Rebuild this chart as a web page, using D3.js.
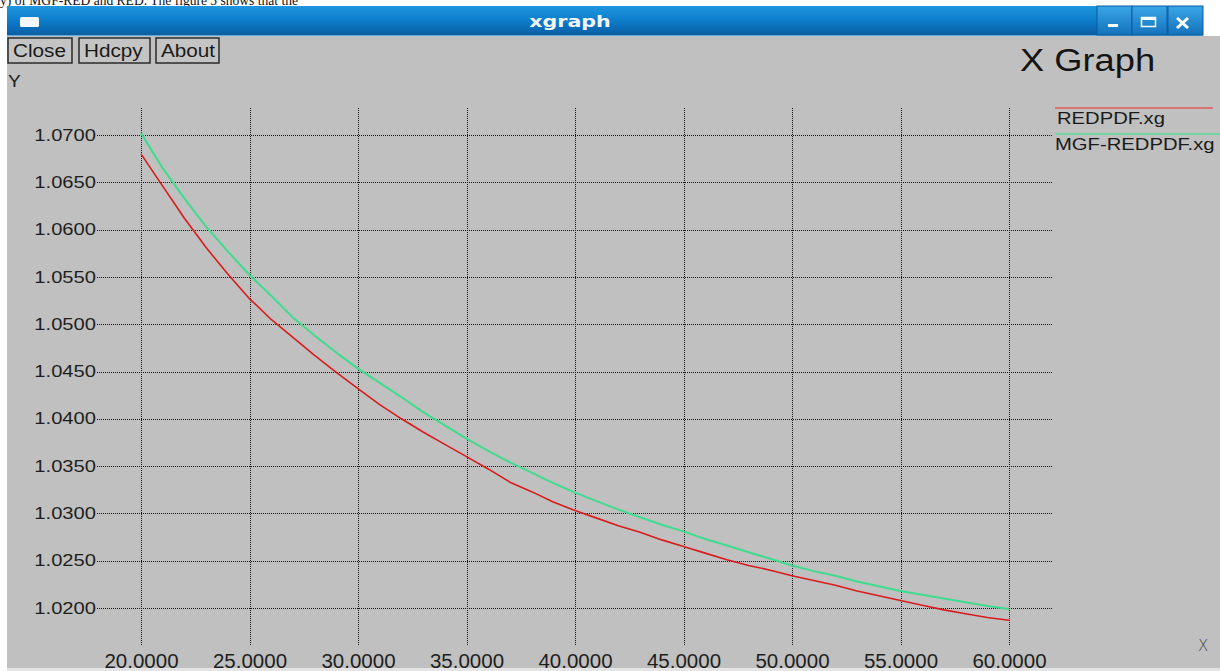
<!DOCTYPE html>
<html>
<head>
<meta charset="utf-8">
<script src="https://cdn.jsdelivr.net/npm/d3@7"></script>
<style>
  body { margin: 0; background: #fff; }
  svg { display: block; }
  text { font-family: "Liberation Sans", Arial, sans-serif; }
</style>
</head>
<body>
<svg id="chart" width="1220" height="671"></svg>
<script>
// x values of the two xgraph data sets
const xs = [20, 21, 22, 23, 24, 25, 26, 27, 28, 29, 30, 31, 32, 33, 34, 35, 36, 37, 38, 39, 40,
            41, 42, 43, 44, 45, 46, 47, 48, 49, 50, 51, 52, 53, 54, 55, 56, 57, 58, 59, 60]

const redpdf = [1.0680, 1.0646, 1.0612, 1.0581, 1.0553, 1.0527, 1.0505, 1.0486, 1.0467, 1.0449, 1.0432,
                1.0415, 1.0400, 1.0386, 1.0373, 1.0360, 1.0347, 1.0333, 1.0323, 1.0312, 1.0303,
                1.0295, 1.0287, 1.0280, 1.0272, 1.0265, 1.0258, 1.0251, 1.0245, 1.0240, 1.0234,
                1.0229, 1.0224, 1.0218, 1.0213, 1.0208, 1.0203, 1.0198, 1.0194, 1.0190, 1.0187]

const mgfRedpdf = [1.0702, 1.0665, 1.0633, 1.0603, 1.0577, 1.0552, 1.0530, 1.0507, 1.0488, 1.0470, 1.0453,
                   1.0438, 1.0423, 1.0407, 1.0393, 1.0379, 1.0366, 1.0354, 1.0343, 1.0332, 1.0322,
                   1.0313, 1.0304, 1.0296, 1.0288, 1.0281, 1.0273, 1.0266, 1.0259, 1.0252, 1.0245,
                   1.0239, 1.0234, 1.0228, 1.0223, 1.0218, 1.0214, 1.0210, 1.0206, 1.0202, 1.0199]

const xTicks = [20, 25, 30, 35, 40, 45, 50, 55, 60]
const yTicks = [1.020, 1.025, 1.030, 1.035, 1.040, 1.045, 1.050, 1.055, 1.060, 1.065, 1.070]

const seriesNames = ["REDPDF.xg", "MGF-REDPDF.xg"]
const seriesColors = ["#d81c1c", "#3fdc8e"]
const buttonLabels = ["Close", "Hdcpy", "About"]

const svg = d3.select("#chart")

// the screenshot is stretched sideways a bit, so glyphs get widened
function widen(sel, k) {
    sel.each(function() {
        let w = this.getComputedTextLength()
        this.setAttribute("textLength", w * k)
        this.setAttribute("lengthAdjust", "spacingAndGlyphs")
    })
}

// scrap of the page text above the screenshot
svg.append("text")
    .attr("x", 0).attr("y", 5)
    .style("font-family", "'Liberation Serif', serif")
    .style("font-size", "15px")
    .attr("fill", "#111")
    .attr("textLength", 298)
    .attr("lengthAdjust", "spacingAndGlyphs")
    .text("y) of MGF-RED and RED. The figure 3 shows that the")

// window body
svg.append("rect").attr("x", 7).attr("y", 36).attr("width", 1213).attr("height", 633).attr("fill", "#c0c0c0")
svg.append("rect").attr("x", 7).attr("y", 668).attr("width", 1213).attr("height", 3).attr("fill", "#e4e4e4")

// title bar
let defs = svg.append("defs")
let grad = defs.append("linearGradient").attr("id", "tbar").attr("x1", 0).attr("y1", 0).attr("x2", 0).attr("y2", 1)
grad.append("stop").attr("offset", "0%").attr("stop-color", "#1f96de")
grad.append("stop").attr("offset", "45%").attr("stop-color", "#0d7fcc")
grad.append("stop").attr("offset", "100%").attr("stop-color", "#0a5ca2")
let grad2 = defs.append("linearGradient").attr("id", "tbtn").attr("x1", 0).attr("y1", 0).attr("x2", 0).attr("y2", 1)
grad2.append("stop").attr("offset", "0%").attr("stop-color", "#3aa6e8")
grad2.append("stop").attr("offset", "100%").attr("stop-color", "#1472bb")

svg.append("rect").attr("x", 7).attr("y", 6).attr("width", 1196).attr("height", 30).attr("fill", "url(#tbar)")
svg.append("rect").attr("x", 7).attr("y", 35).attr("width", 1196).attr("height", 1).attr("fill", "#5fa8d8")
svg.append("rect").attr("x", 20).attr("y", 17).attr("width", 19).attr("height", 10).attr("rx", 1.5).attr("fill", "#f4f8fc")

svg.append("text")
    .attr("x", 570).attr("y", 27)
    .attr("text-anchor", "middle")
    .style("font-family", "'DejaVu Sans', sans-serif")
    .style("font-weight", "bold")
    .style("font-size", "16.5px")
    .attr("fill", "#f2f6fa")
    .text("xgraph")
    .call(widen, 1.25)

let wbtn = svg.append("g")
;[1097, 1132, 1168].forEach(bx => {
    wbtn.append("rect").attr("x", bx).attr("y", 6).attr("width", 35).attr("height", 29)
        .attr("fill", "url(#tbtn)").attr("stroke", "#0b5d9e").attr("stroke-width", 1)
})
wbtn.append("rect").attr("x", 1108).attr("y", 24).attr("width", 10).attr("height", 3).attr("fill", "#fff")
wbtn.append("rect").attr("x", 1141.5).attr("y", 17.5).attr("width", 14).attr("height", 9)
    .attr("fill", "none").attr("stroke", "#fff").attr("stroke-width", 1.5)
wbtn.append("rect").attr("x", 1141).attr("y", 17).attr("width", 15).attr("height", 3).attr("fill", "#fff")
wbtn.append("path").attr("d", "M1177,18 L1188,28 M1188,18 L1177,28")
    .attr("stroke", "#fff").attr("stroke-width", 3)

// xgraph buttons
let bx = [7, 78, 155]
let bw = [66, 73, 65]
let btns = svg.append("g")
buttonLabels.forEach((b, i) => {
    btns.append("rect").attr("x", bx[i] + 1).attr("y", 38).attr("width", bw[i] - 2).attr("height", 25)
        .attr("fill", "#c4c4c4").attr("stroke", "#2a2a2a").attr("stroke-width", 1.5)
    btns.append("text").attr("x", bx[i] + 6).attr("y", 57)
        .style("font-size", "18px").attr("fill", "#1a1a1a")
        .text(b)
        .call(widen, 1.15)
})

// scales
const x = d3.scaleLinear().domain([20, 60]).range([141, 1009])
const y = d3.scaleLinear().domain([1.02, 1.07]).range([608, 135])

const gridLeft = 97, gridRight = 1053, gridTop = 108, gridBottom = 645

// vertical grid + x labels
let xAxis = svg.append("g")
    .attr("transform", "translate(0," + gridBottom + ")")
    .call(d3.axisBottom(x)
        .tickValues(xTicks)
        .tickSize(-(gridBottom - gridTop))
        .tickPadding(8)
        .tickFormat(d3.format(".4f")))
xAxis.select(".domain").remove()
xAxis.selectAll(".tick line")
    .attr("stroke", "#151515")
    .attr("stroke-dasharray", "1,1")
    .attr("shape-rendering", "crispEdges")
xAxis.selectAll(".tick text")
    .style("font-family", "'Liberation Sans', Arial, sans-serif")
    .style("font-size", "20.5px")
    .attr("fill", "#1e1e1e")

// horizontal grid + y labels
let yAxis = svg.append("g")
    .attr("transform", "translate(" + gridLeft + ",0)")
    .call(d3.axisLeft(y)
        .tickValues(yTicks)
        .tickSize(-(gridRight - gridLeft))
        .tickPadding(1)
        .tickFormat(d3.format(".4f")))
yAxis.select(".domain").remove()
yAxis.selectAll(".tick line")
    .attr("stroke", "#151515")
    .attr("stroke-dasharray", "1,1")
    .attr("shape-rendering", "crispEdges")
yAxis.selectAll(".tick text")
    .style("font-family", "'Liberation Sans', Arial, sans-serif")
    .style("font-size", "16px")
    .attr("fill", "#1e1e1e")
    .call(widen, 1.26)

// axis names
svg.append("text").attr("x", 8).attr("y", 87)
    .style("font-size", "16px").attr("fill", "#1e1e1e")
    .text("Y")
    .call(widen, 1.2)
svg.append("text").attr("x", 1198).attr("y", 651)
    .style("font-family", "'DejaVu Sans', sans-serif")
    .style("font-weight", "200")
    .style("font-size", "15px").attr("fill", "#444")
    .text("X")

svg.append("text").attr("x", 1020).attr("y", 70.5)
    .style("font-size", "31px").attr("fill", "#141414")
    .text("X Graph")
    .call(widen, 1.17)

// data lines
const line = d3.line()
    .x((d, i) => x(xs[i]))
    .y(d => y(d))

let allSeries = [redpdf, mgfRedpdf]
let widths = [1.6, 2]
svg.append("g").selectAll("path")
    .data(allSeries)
    .join("path")
    .attr("d", d => line(d))
    .attr("fill", "none")
    .attr("stroke", (d, i) => seriesColors[i])
    .attr("stroke-width", (d, i) => widths[i])
    .attr("stroke-linejoin", "round")

// legend
let legY = [108, 134]
let legX = [1057, 1055]
let legend = svg.append("g")
seriesNames.forEach((n, i) => {
    legend.append("line")
        .attr("x1", 1055).attr("x2", i === 0 ? 1213 : 1220)
        .attr("y1", legY[i]).attr("y2", legY[i])
        .attr("stroke", i === 0 ? "#e25a5a" : "#58dc98")
        .attr("stroke-width", 1.5)
    legend.append("text")
        .attr("x", legX[i]).attr("y", legY[i] + 16)
        .style("font-size", "17px").attr("fill", "#1a1a1a")
        .text(n)
        .call(widen, 1.19)
})
</script>
</body>
</html>
